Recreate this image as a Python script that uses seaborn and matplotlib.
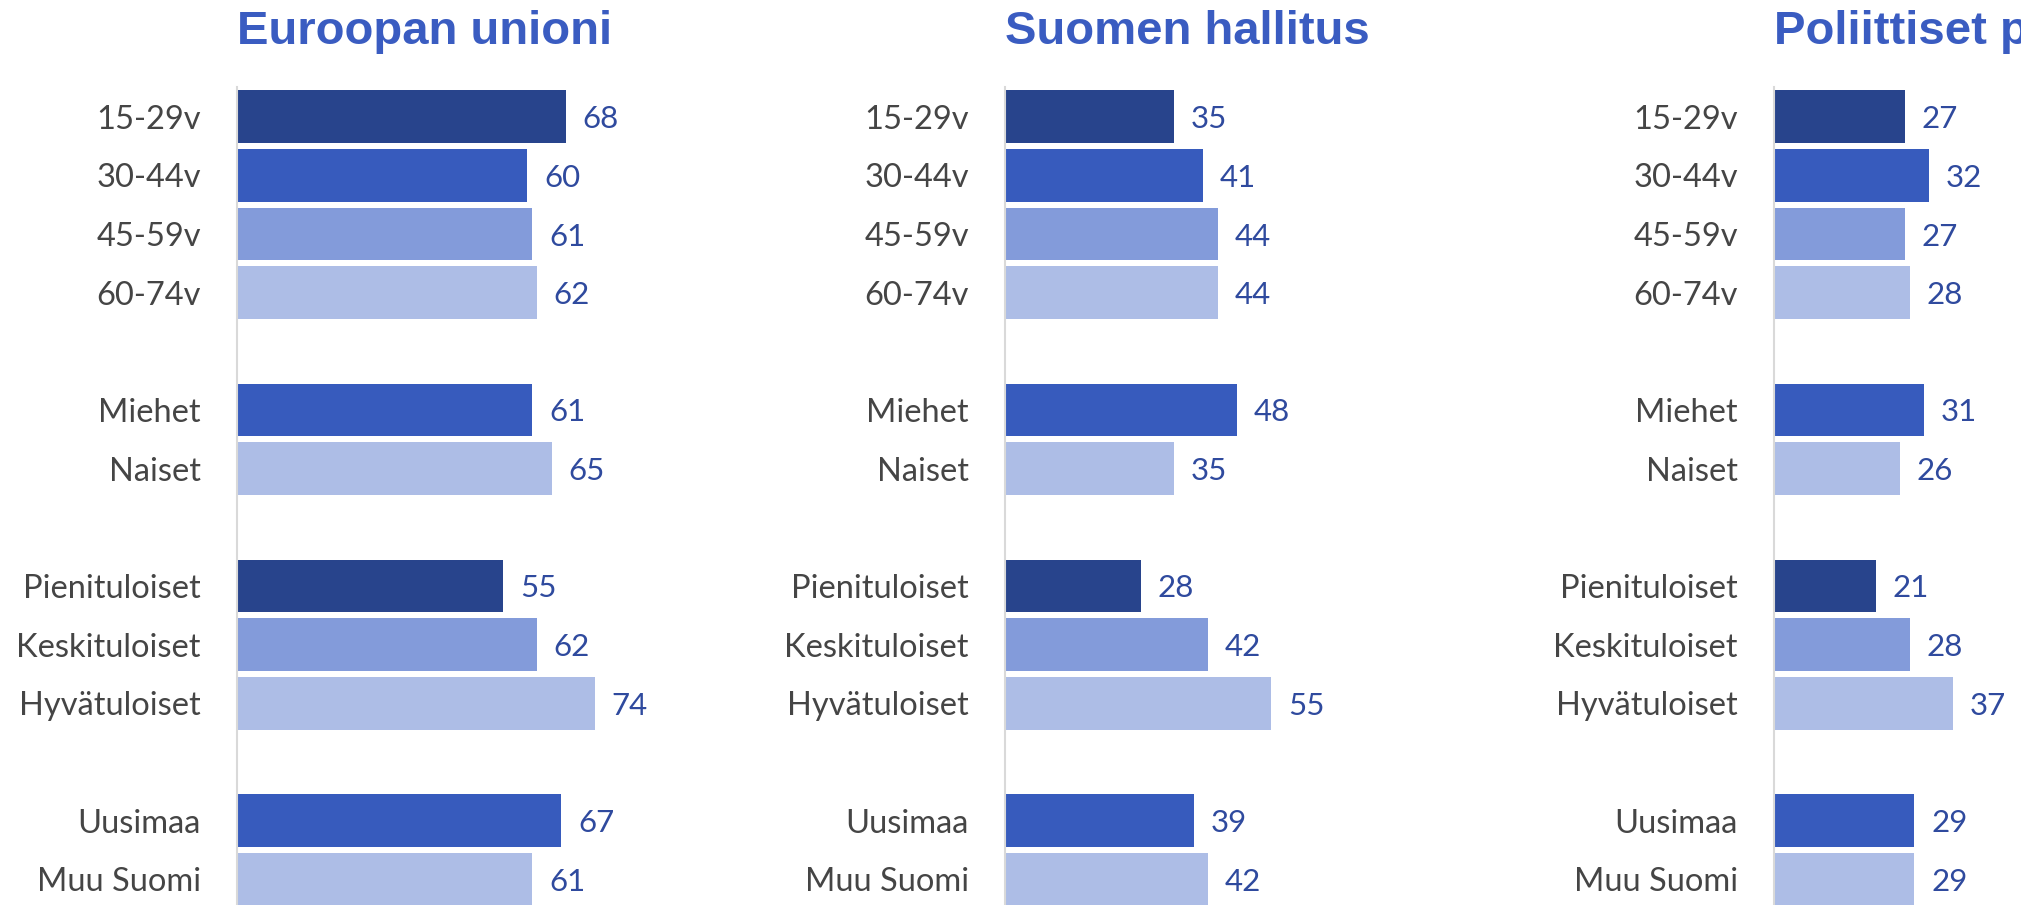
import pandas as pd
import matplotlib.pyplot as plt
import seaborn as sns

# Data
titles = ["Euroopan unioni", "Suomen hallitus", "Poliittiset puolueet"]
groups = [
    ["15-29v", "30-44v", "45-59v", "60-74v"],
    ["Miehet", "Naiset"],
    ["Pienituloiset", "Keskituloiset", "Hyvätuloiset"],
    ["Uusimaa", "Muu Suomi"],
]
eu = [68, 60, 61, 62, 61, 65, 55, 62, 74, 67, 61]
hallitus = [35, 41, 44, 44, 48, 35, 28, 42, 55, 39, 42]
puolueet = [27, 32, 27, 28, 31, 26, 21, 28, 37, 29, 29]
shades = ["dark", "mid", "midlight", "light",
          "mid", "light",
          "dark", "midlight", "light",
          "mid", "light"]

shade_colors = {"dark": "#28448C", "mid": "#375BBD",
                "midlight": "#839BDA", "light": "#ADBDE6"}

labels = [lab for g in groups for lab in g]
# category order with a blank row between groups
order = []
for i, g in enumerate(groups):
    if i > 0:
        order.append(" " * i)
    order.extend(g)
palette = {lab: shade_colors[s] for lab, s in zip(labels, shades)}

sns.set_style("white")
plt.rcParams["font.family"] = ["Lato", "DejaVu Sans"]

W, H = 2021, 905
fig = plt.figure(figsize=(W / 100, H / 100), dpi=100)

row_px = 58.65
ax_top = 87.4
ax_h = row_px * len(order)
ax_w = 484
lefts = [237, 1005, 1774]

for title, vals, left in zip(titles, [eu, hallitus, puolueet], lefts):
    df = pd.DataFrame({"label": labels, "value": vals})
    ax = fig.add_axes([left / W, (H - ax_top - ax_h) / H, ax_w / W, ax_h / H])
    sns.barplot(data=df, x="value", y="label", hue="label", order=order,
                palette=palette, legend=False, width=0.9, orient="h",
                saturation=1, ax=ax, linewidth=0)
    ax.set_xlim(0, 100)
    ax.set_ylim(len(order) - 0.5, -0.5)
    for c in ax.containers:
        txts = ax.bar_label(c, padding=12, fontsize=22.5, color="#2F4A9E")
        for t in txts:
            t.set_verticalalignment("center_baseline")
    ax.set_xlabel("")
    ax.set_ylabel("")
    ax.set_xticks([])
    ax.tick_params(axis="y", length=0, pad=26, labelsize=23.5,
                   labelcolor="#454545")
    for t in ax.get_yticklabels():
        t.set_verticalalignment("center_baseline")
    for s in ["top", "right", "bottom"]:
        ax.spines[s].set_visible(False)
    ax.spines["left"].set_color("#D9D9D9")
    ax.spines["left"].set_linewidth(1.5)
    fig.text(left / W, 1 - 44 / H, title, ha="left", va="baseline",
             fontsize=34, fontweight="bold", color="#3A5CC1",
             family=["Liberation Sans", "DejaVu Sans"])

fig.savefig("out.png", dpi=100)
